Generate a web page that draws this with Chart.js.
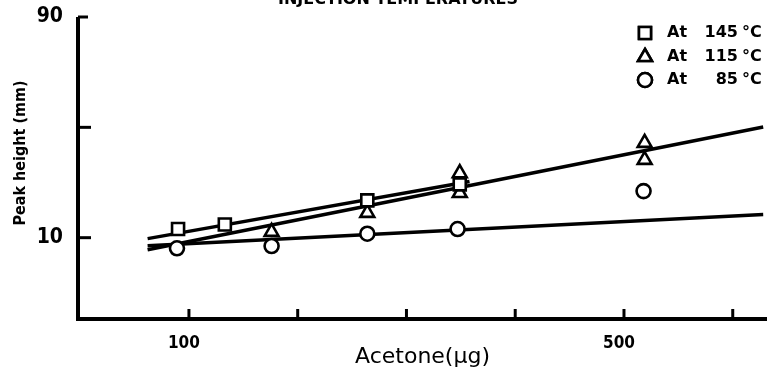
<!DOCTYPE html>
<html>
<head>
<meta charset="utf-8">
<script src="https://cdn.jsdelivr.net/npm/chart.js@4.4.1/dist/chart.umd.min.js"></script>
<style>
  html, body { margin: 0; padding: 0; background: #fff; }
  #wrap { width: 767px; height: 371px; position: relative; }
</style>
</head>
<body>
<div id="wrap"><canvas id="c" width="767" height="371"></canvas></div>
<script>
// Acetone amount (µg) and peak height (mm) for each injection temperature
const amt145 = [90, 133, 264, 349];
const peak145 = [10.9, 11.4, 14.5, 17.0];
const amt115 = [176, 264, 349, 349, 519, 519];
const peak115 = [10.6, 12.8, 19.0, 15.6, 25.7, 21.7];
const amt85 = [89, 176, 264, 347, 518];
const peak85 = [9.0, 9.2, 10.4, 10.9, 15.9];

// Fitted straight lines (end points)
const fit145X = [62, 358];
const fit145Y = [9.9, 17.5];
const fit115X = [62, 628];
const fit115Y = [8.87, 30.1];
const fit85X = [62, 628];
const fit85Y = [9.23, 12.6];

// Axis ticks and their labels
const xTicks = [100, 200, 300, 400, 500, 600];
const xTickLabels = { 100: '100', 500: '500' };
const yTicks = [10, 30, 90];
const yTickLabels = { 10: '10', 90: '90' };

const seriesLabels = ['At 145 °C', 'At 115 °C', 'At 85 °C'];
const chartTitle = 'INJECTION TEMPERATURES';
const yTitle = 'Peak height (mm)';

const pts = (xs, ys) => xs.map((x, i) => ({ x: x, y: ys[i] }));

const markerBase = {
  showLine: false,
  backgroundColor: '#fff',
  borderColor: '#000',
  borderWidth: 2.6,
  order: 0
};
const lineBase = {
  showLine: true,
  pointRadius: 0,
  borderColor: '#000',
  borderWidth: 3.4,
  order: 1
};

// Axes drawn as heavy lines, ticks pointing inward, legend, y title and headline
const decor = {
  id: 'decor',
  afterDraw(chart) {
    const { ctx, chartArea: a, scales: { x, y } } = chart;
    ctx.save();
    ctx.strokeStyle = '#000';
    ctx.fillStyle = '#000';

    ctx.lineWidth = 4;
    ctx.beginPath();
    ctx.moveTo(a.left, a.top);
    ctx.lineTo(a.left, a.bottom);
    ctx.lineTo(a.right, a.bottom);
    ctx.stroke();

    ctx.lineWidth = 3;
    xTicks.forEach(v => {
      const px = x.getPixelForValue(v);
      ctx.beginPath(); ctx.moveTo(px, a.bottom); ctx.lineTo(px, a.bottom - 10); ctx.stroke();
    });
    yTicks.forEach(v => {
      const py = y.getPixelForValue(v);
      ctx.beginPath(); ctx.moveTo(a.left, py); ctx.lineTo(a.left + (v === 90 ? 10 : 13), py); ctx.stroke();
    });

    // legend
    const styles = ['rect', 'triangle', 'circle'];
    const radii = [8.5, 8, 7];
    const rows = [33, 57, 80];
    ctx.font = 'bold 16px "DejaVu Sans"';
    ctx.textBaseline = 'middle';
    styles.forEach((s, i) => {
      ctx.lineWidth = 2.6;
      ctx.fillStyle = '#fff';
      Chart.helpers.drawPoint(ctx, { pointStyle: s, radius: radii[i], borderWidth: 2.6 }, 645, rows[i]);
      ctx.fill();
      ctx.stroke();
      ctx.fillStyle = '#000';
      const parts = seriesLabels[i].split(' ');
      ctx.textAlign = 'left';
      ctx.fillText(parts[0], 667, rows[i]);
      ctx.textAlign = 'right';
      ctx.fillText(parts[1], 738, rows[i]);
      ctx.textAlign = 'left';
      ctx.fillText(parts[2], 742, rows[i]);
    });

    // y axis title
    ctx.save();
    ctx.translate(21, 153);
    ctx.rotate(-Math.PI / 2);
    ctx.font = 'bold 16px "DejaVu Sans Condensed"';
    ctx.textAlign = 'center';
    ctx.textBaseline = 'middle';
    ctx.fillText(yTitle, 0, 0);
    ctx.restore();

    // headline, partly above the top edge
    ctx.font = 'bold 16px "DejaVu Sans"';
    ctx.textAlign = 'center';
    ctx.textBaseline = 'alphabetic';
    ctx.fillText(chartTitle, 398, 4);
    ctx.restore();
  }
};

new Chart(document.getElementById('c'), {
  type: 'scatter',
  data: {
    datasets: [
      Object.assign({ label: seriesLabels[0], data: pts(amt145, peak145), pointStyle: 'rect', pointRadius: 8.5 }, markerBase),
      Object.assign({ label: seriesLabels[1], data: pts(amt115, peak115), pointStyle: 'triangle', pointRadius: 8 }, markerBase),
      Object.assign({ label: seriesLabels[2], data: pts(amt85, peak85), pointStyle: 'circle', pointRadius: 7 }, markerBase),
      Object.assign({ label: 'fit 145', data: pts(fit145X, fit145Y) }, lineBase),
      Object.assign({ label: 'fit 115', data: pts(fit115X, fit115Y) }, lineBase),
      Object.assign({ label: 'fit 85', data: pts(fit85X, fit85Y) }, lineBase)
    ]
  },
  options: {
    responsive: false,
    animation: false,
    devicePixelRatio: 1,
    layout: { autoPadding: false, padding: { top: 17, right: 0, left: 0, bottom: 0 } },
    plugins: { legend: { display: false }, tooltip: { enabled: false } },
    scales: {
      x: {
        type: 'linear',
        min: -2,
        max: 631.5,
        afterFit: s => { s.height = 52; s.paddingLeft = 0; s.paddingRight = 0; },
        afterBuildTicks: s => { s.ticks = xTicks.map(v => ({ value: v })); },
        grid: { display: false },
        border: { display: false },
        ticks: {
          autoSkip: false, maxRotation: 0, padding: 6, labelOffset: -5,
          color: '#000',
          font: { family: '"Liberation Sans Narrow", "DejaVu Sans Condensed"', size: 17, weight: 'bold' },
          callback: v => xTickLabels[v] || ''
        },
        title: {
          display: true, text: 'Acetone(µg)', color: '#000',
          font: { family: '"DejaVu Sans"', size: 22 },
          padding: { top: 0, bottom: 1 }
        }
      },
      y: {
        type: 'logarithmic',
        min: 4.45,
        max: 90,
        afterFit: s => { s.width = 78; s.paddingTop = 0; s.paddingBottom = 0; },
        afterBuildTicks: s => { s.ticks = yTicks.map(v => ({ value: v })); },
        grid: { display: false },
        border: { display: false },
        ticks: {
          autoSkip: false, padding: 7,
          color: '#000',
          font: { family: '"Liberation Sans Narrow", "DejaVu Sans Condensed"', size: 21, weight: 'bold' },
          callback: v => yTickLabels[v] || ''
        }
      }
    }
  },
  plugins: [decor]
});
</script>
</body>
</html>
